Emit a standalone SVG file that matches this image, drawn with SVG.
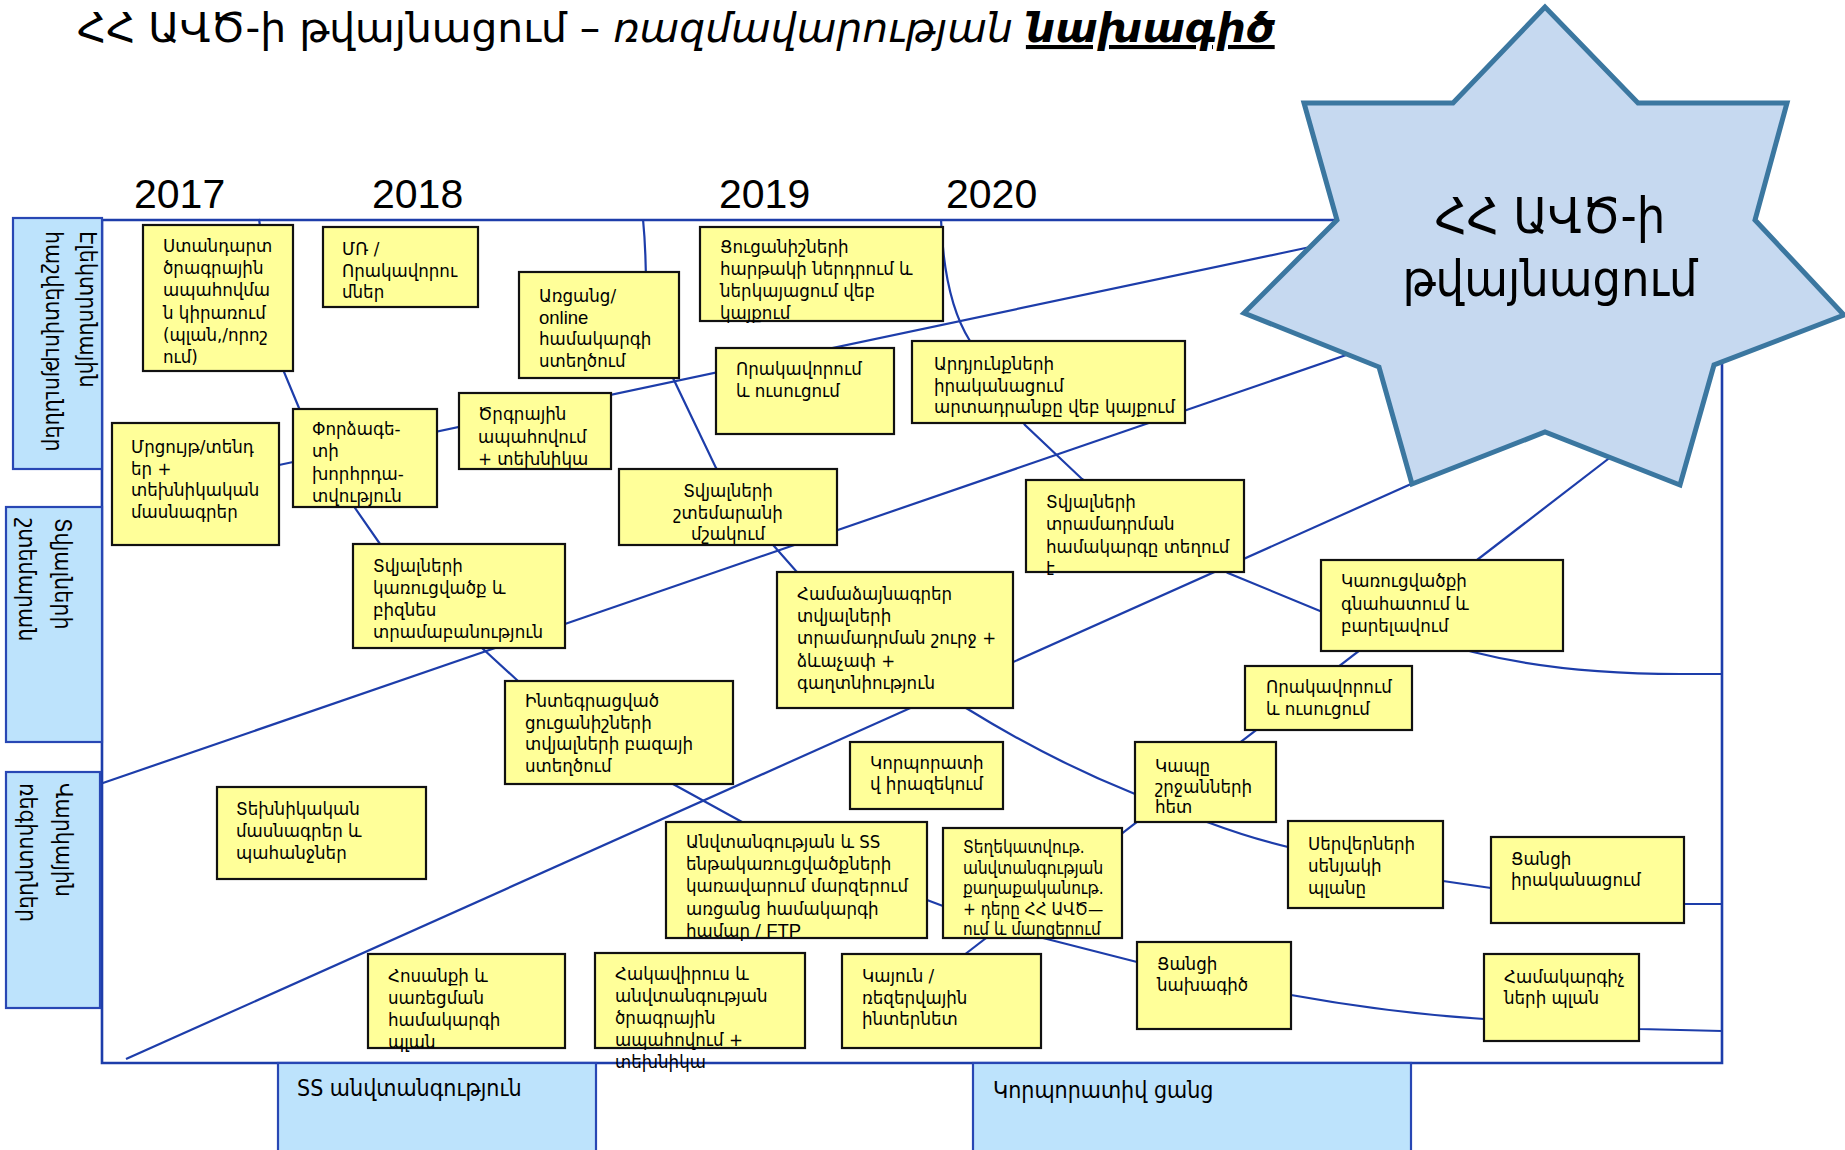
<svg xmlns="http://www.w3.org/2000/svg" width="1845" height="1150" viewBox="0 0 1845 1150">
<style>
.arm{font-family:"DejaVu Sans Condensed","DejaVu Sans",sans-serif;font-stretch:condensed;fill:#000}
.t{font-size:18.5px}
.sm{font-size:17px}
.sans{font-family:"Liberation Sans",Arial,sans-serif;font-stretch:normal}
.yr{font-family:"Liberation Sans",Arial,sans-serif;font-size:41px;fill:#000}
.box{fill:#FFFF99;stroke:#111;stroke-width:2.2}
.cat{fill:#BDE3FC;stroke:#2847B4;stroke-width:2.2}
.cat-t{font-family:"DejaVu Sans Condensed","DejaVu Sans",sans-serif;font-stretch:condensed;font-size:23px;fill:#000}
.ln{fill:none;stroke:#1D3DAA;stroke-width:2.2}
.frame{fill:none;stroke:#1D3DAA;stroke-width:2.6}
</style>
<rect width="1845" height="1150" fill="#fff"/>

<g id="title">
<text x="77" y="42" font-family="DejaVu Sans, sans-serif" font-size="40.8" fill="#000">ՀՀ ԱՎԾ-ի թվայնացում – <tspan font-style="italic">ռազմավարության </tspan><tspan font-style="italic" font-weight="bold" text-decoration="underline">նախագիծ</tspan></text>
</g>

<g id="years">
<text class="yr" x="134" y="208">2017</text>
<text class="yr" x="372" y="208">2018</text>
<text class="yr" x="719" y="208">2019</text>
<text class="yr" x="946" y="208">2020</text>
</g>

<g id="frame">
<path class="frame" d="M1345,220 L102,220 L102,1063 L1722,1063 L1722,360"/>
</g>

<g id="connectors">
<path class="ln" d="M643,219 Q646,250 646,290 L673,378 L716,468 L774,546 L796,571 L966,708 Q1050,760 1135,794 L1207,822 Q1250,838 1288,847 L1443,881 L1491,888 L1685,904 L1722,904"/>
<path class="ln" d="M941,219 Q944,300 970,341 L1025,425 L1082,479 L1228,573 L1320,611 L1473,652 Q1560,674 1680,674 L1722,674"/>
<path class="ln" d="M259,219 L262,240 L284,372 L299,408 L355,508 L380,544 L482,648 L518,681 L673,784 L742,822 L927,900 L943,906 L1043,938 L1137,962 L1291,995 Q1390,1013 1484,1019 L1639,1029 L1722,1031"/>
<path class="ln" d="M955,962 L1625,446"/>
<path class="ln" d="M100,784 L1352,353"/>
<path class="ln" d="M126,1059 L1420,480"/>
<path class="ln" d="M279,465 L1315,246"/>
</g>

<g id="star">
<polygon points="1545,7 1453,103 1304,103 1337,220 1244,313 1379,367 1412,484 1545,432 1680,485 1714,365 1844,315 1755,220 1787,103 1638,103" fill="#C6D9F0" stroke="#3B77A0" stroke-width="5" stroke-linejoin="miter"/>
<text class="arm" x="1550" y="233" font-size="50" text-anchor="middle">ՀՀ ԱՎԾ-ի</text>
<text class="arm" x="1550" y="296" font-size="50" text-anchor="middle">թվայնացում</text>
</g>

<g id="cat-ereport">
<rect class="cat" x="13" y="218" width="89" height="251"/>
<text class="cat-t" transform="translate(80,231) rotate(90)">Էլեկտրոնային</text>
<text class="cat-t" transform="translate(46,231) rotate(90)">հաշվետվություններ</text>
</g>
<g id="cat-dwh">
<rect class="cat" x="6" y="507" width="96" height="235"/>
<text class="cat-t" transform="translate(55,518) rotate(90)">Տվյալների</text>
<text class="cat-t" transform="translate(19,518) rotate(90)">շտեմարան</text>
</g>
<g id="cat-credit">
<rect class="cat" x="6" y="772" width="94" height="236"/>
<text class="cat-t" transform="translate(56,783) rotate(90)">Վարկային</text>
<text class="cat-t" transform="translate(20,783) rotate(90)">ռեգիստրներ</text>
</g>
<g id="cat-security">
<rect class="cat" x="278" y="1063" width="318" height="95"/>
<text class="cat-t" x="297" y="1096" font-size="25">SS անվտանգություն</text>
</g>
<g id="cat-network">
<rect class="cat" x="973" y="1063" width="438" height="95"/>
<text class="cat-t" x="993" y="1098" font-size="25">Կորպորատիվ ցանց</text>
</g>

<g id="n-standard">
<rect class="box" x="143" y="225" width="150" height="146"/>
<text class="arm t"><tspan x="163" y="252">Ստանդարտ</tspan><tspan x="163" dy="22.2">ծրագրային</tspan><tspan x="163" dy="22.2">ապահովմա</tspan><tspan x="163" dy="22.2">ն կիրառում</tspan><tspan x="163" dy="22.2">(պլան,/որոշ</tspan><tspan x="163" dy="22.2">ում)</tspan></text>
</g>
<g id="n-mr">
<rect class="box" x="323" y="227" width="155" height="80"/>
<text class="arm t"><tspan x="342" y="255">ՄՌ /</tspan><tspan x="342" dy="21.5">Որակավորու</tspan><tspan x="342" dy="21.5">մներ</tspan></text>
</g>
<g id="n-online">
<rect class="box" x="519" y="272" width="160" height="106"/>
<text class="arm t"><tspan x="539" y="302">Առցանց/</tspan><tspan x="539" dy="21.7" class="sans">online</tspan><tspan x="539" dy="21.7">համակարգի</tspan><tspan x="539" dy="21.7">ստեղծում</tspan></text>
</g>
<g id="n-indicators">
<rect class="box" x="700" y="227" width="243" height="94"/>
<text class="arm t"><tspan x="720" y="253">Ցուցանիշների</tspan><tspan x="720" dy="22">հարթակի ներդրում և</tspan><tspan x="720" dy="22">ներկայացում վեբ</tspan><tspan x="720" dy="22">կայքում</tspan></text>
</g>
<g id="n-results">
<rect class="box" x="912" y="341" width="273" height="82"/>
<text class="arm t"><tspan x="934" y="370">Արդյունքների</tspan><tspan x="934" dy="21.5">իրականացում</tspan><tspan x="934" dy="21.5">արտադրանքը վեբ կայքում</tspan></text>
</g>
<g id="n-training-2019">
<rect class="box" x="716" y="348" width="178" height="86"/>
<text class="arm t"><tspan x="736" y="375">Որակավորում</tspan><tspan x="736" dy="22">և ուսուցում</tspan></text>
</g>
<g id="n-tender">
<rect class="box" x="112" y="423" width="167" height="122"/>
<text class="arm t"><tspan x="131" y="453">Մրցույթ/տենդ</tspan><tspan x="131" dy="21.7">եր +</tspan><tspan x="131" dy="21.7">տեխնիկական</tspan><tspan x="131" dy="21.7">մասնագրեր</tspan></text>
</g>
<g id="n-expert">
<rect class="box" x="293" y="409" width="144" height="98"/>
<text class="arm t"><tspan x="312" y="435">Փորձագե-</tspan><tspan x="312" dy="22.3">տի</tspan><tspan x="312" dy="22.3">խորհրդա-</tspan><tspan x="312" dy="22.3">տվություն</tspan></text>
</g>
<g id="n-software">
<rect class="box" x="459" y="393" width="152" height="76"/>
<text class="arm t"><tspan x="478" y="420">Ծրգրային</tspan><tspan x="478" dy="22.5">ապահովում</tspan><tspan x="478" dy="22.5">+ տեխնիկա</tspan></text>
</g>
<g id="n-structure">
<rect class="box" x="353" y="544" width="212" height="104"/>
<text class="arm t"><tspan x="373" y="572">Տվյալների</tspan><tspan x="373" dy="22">կառուցվածք և</tspan><tspan x="373" dy="22">բիզնես</tspan><tspan x="373" dy="22">տրամաբանություն</tspan></text>
</g>
<g id="n-dwh-dev">
<rect class="box" x="619" y="469" width="218" height="76"/>
<text class="arm t" text-anchor="middle"><tspan x="728" y="497">Տվյալների</tspan><tspan x="728" dy="21.5">շտեմարանի</tspan><tspan x="728" dy="21.5">մշակում</tspan></text>
</g>
<g id="n-provision">
<rect class="box" x="1026" y="480" width="218" height="92"/>
<text class="arm t"><tspan x="1046" y="508">Տվյալների</tspan><tspan x="1046" dy="22.3">տրամադրման</tspan><tspan x="1046" dy="22.3">համակարգը տեղում</tspan><tspan x="1046" dy="22.3">է</tspan></text>
</g>
<g id="n-agreements">
<rect class="box" x="777" y="572" width="236" height="136"/>
<text class="arm t"><tspan x="797" y="600">Համաձայնագրեր</tspan><tspan x="797" dy="22.2">տվյալների</tspan><tspan x="797" dy="22.2">տրամադրման շուրջ +</tspan><tspan x="797" dy="22.2">ձևաչափ +</tspan><tspan x="797" dy="22.2">գաղտնիություն</tspan></text>
</g>
<g id="n-integrated">
<rect class="box" x="505" y="681" width="228" height="103"/>
<text class="arm t"><tspan x="525" y="707">Ինտեգրացված</tspan><tspan x="525" dy="21.5">ցուցանիշների</tspan><tspan x="525" dy="21.5">տվյալների բազայի</tspan><tspan x="525" dy="21.5">ստեղծում</tspan></text>
</g>
<g id="n-techspec">
<rect class="box" x="217" y="787" width="209" height="92"/>
<text class="arm t"><tspan x="236" y="815">Տեխնիկական</tspan><tspan x="236" dy="22">մասնագրեր և</tspan><tspan x="236" dy="22">պահանջներ</tspan></text>
</g>
<g id="n-awareness">
<rect class="box" x="850" y="742" width="153" height="67"/>
<text class="arm t"><tspan x="870" y="769">Կորպորատի</tspan><tspan x="870" dy="21">վ իրազեկում</tspan></text>
</g>
<g id="n-security-mgmt">
<rect class="box" x="666" y="822" width="261" height="116"/>
<text class="arm t"><tspan x="686" y="848">Անվտանգության և SS</tspan><tspan x="686" dy="22.2">ենթակառուցվածքների</tspan><tspan x="686" dy="22.2">կառավարում մարզերում</tspan><tspan x="686" dy="22.2">առցանց համակարգի</tspan><tspan x="686" dy="22.2">համար / <tspan class="sans">FTP</tspan></tspan></text>
</g>
<g id="n-infosec-policy">
<rect class="box" x="943" y="828" width="179" height="110"/>
<text class="arm sm"><tspan x="963" y="853">Տեղեկատվութ.</tspan><tspan x="963" dy="20.5">անվտանգության</tspan><tspan x="963" dy="20.5">քաղաքականութ.</tspan><tspan x="963" dy="20.5">+ դերը ՀՀ ԱՎԾ—</tspan><tspan x="963" dy="20.5">ում և մարզերում</tspan></text>
</g>
<g id="n-regions">
<rect class="box" x="1135" y="742" width="141" height="80"/>
<text class="arm t"><tspan x="1155" y="772">Կապը</tspan><tspan x="1155" dy="20.5">շրջանների</tspan><tspan x="1155" dy="20.5">հետ</tspan></text>
</g>
<g id="n-training-2020">
<rect class="box" x="1245" y="666" width="167" height="64"/>
<text class="arm t"><tspan x="1266" y="693">Որակավորում</tspan><tspan x="1266" dy="22">և ուսուցում</tspan></text>
</g>
<g id="n-assessment">
<rect class="box" x="1321" y="560" width="242" height="91"/>
<text class="arm t"><tspan x="1341" y="587">Կառուցվածքի</tspan><tspan x="1341" dy="22.5">գնահատում և</tspan><tspan x="1341" dy="22.5">բարելավում</tspan></text>
</g>
<g id="n-server-room">
<rect class="box" x="1288" y="821" width="155" height="87"/>
<text class="arm t"><tspan x="1308" y="850">Սերվերների</tspan><tspan x="1308" dy="22">սենյակի</tspan><tspan x="1308" dy="22">պլանը</tspan></text>
</g>
<g id="n-network-impl">
<rect class="box" x="1491" y="837" width="193" height="86"/>
<text class="arm t"><tspan x="1511" y="865">Ցանցի</tspan><tspan x="1511" dy="21">իրականացում</tspan></text>
</g>
<g id="n-network-design">
<rect class="box" x="1137" y="942" width="154" height="87"/>
<text class="arm t"><tspan x="1157" y="970">Ցանցի</tspan><tspan x="1157" dy="20.5">նախագիծ</tspan></text>
</g>
<g id="n-pc-plan">
<rect class="box" x="1484" y="954" width="155" height="87"/>
<text class="arm t"><tspan x="1504" y="983">Համակարգիչ</tspan><tspan x="1504" dy="20.5">ների պլան</tspan></text>
</g>
<g id="n-power">
<rect class="box" x="368" y="954" width="197" height="94"/>
<text class="arm t"><tspan x="388" y="982">Հոսանքի և</tspan><tspan x="388" dy="22">սառեցման</tspan><tspan x="388" dy="22">համակարգի</tspan><tspan x="388" dy="22">պլան</tspan></text>
</g>
<g id="n-antivirus">
<rect class="box" x="595" y="953" width="210" height="95"/>
<text class="arm t"><tspan x="615" y="980">Հակավիրուս և</tspan><tspan x="615" dy="22">անվտանգության</tspan><tspan x="615" dy="22">ծրագրային</tspan><tspan x="615" dy="22">ապահովում +</tspan><tspan x="615" dy="22">տեխնիկա</tspan></text>
</g>
<g id="n-internet">
<rect class="box" x="842" y="954" width="199" height="94"/>
<text class="arm t"><tspan x="862" y="982">Կայուն /</tspan><tspan x="862" dy="21.5">ռեզերվային</tspan><tspan x="862" dy="21.5">ինտերնետ</tspan></text>
</g>
</svg>
